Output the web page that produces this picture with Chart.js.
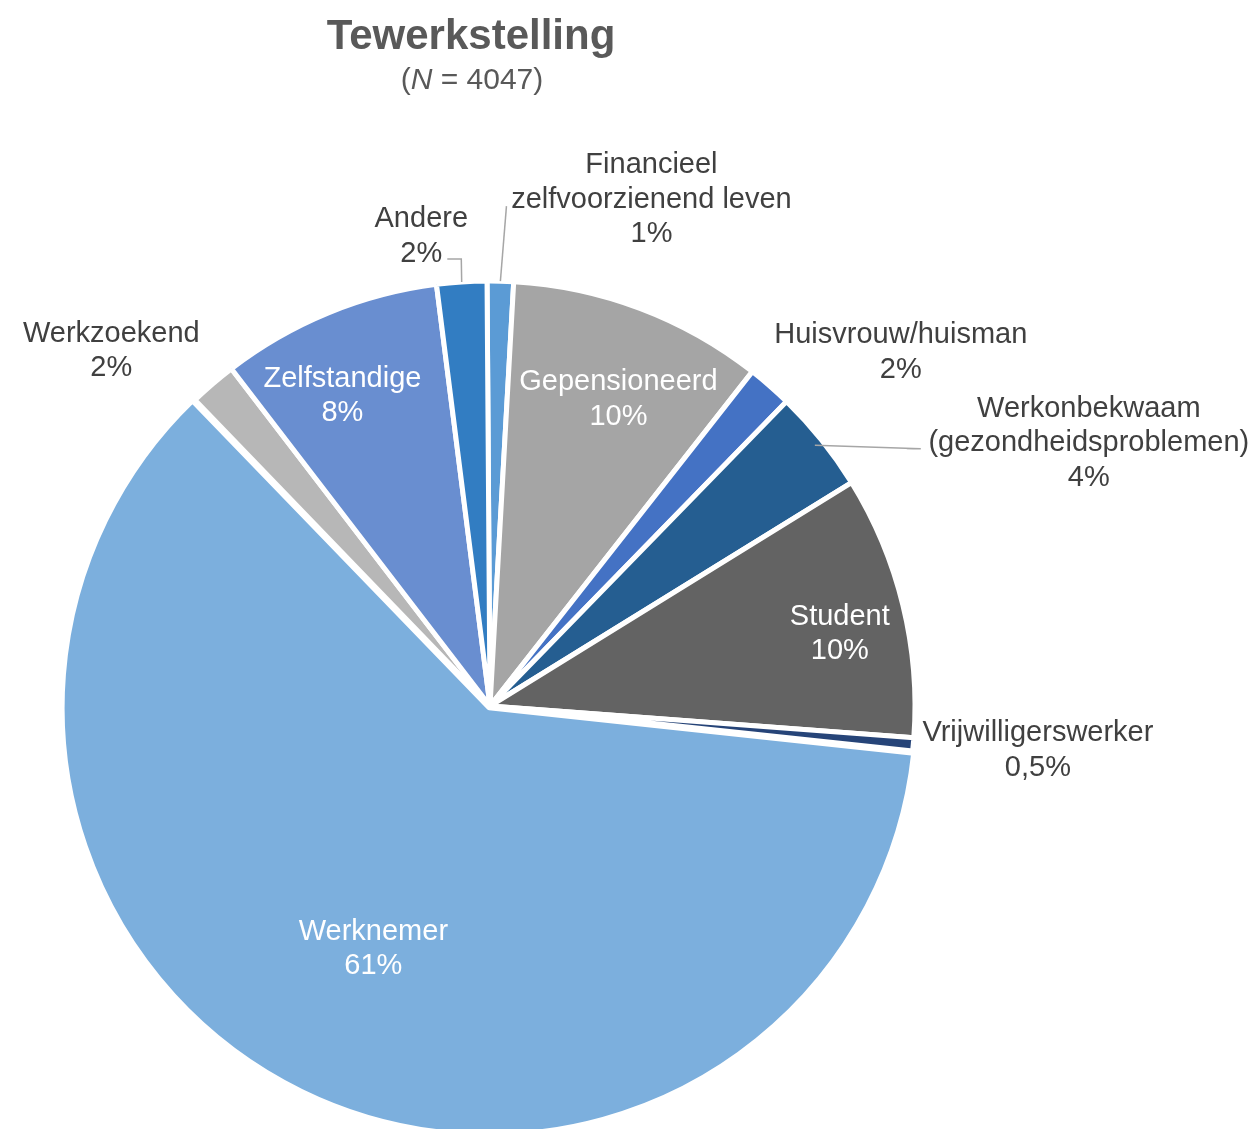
<!DOCTYPE html>
<html lang="nl">
<head>
<meta charset="utf-8">
<title>Tewerkstelling</title>
<script src="https://cdn.jsdelivr.net/npm/chart.js@4.4.1/dist/chart.umd.min.js"></script>
<style>
  html, body { margin: 0; padding: 0; background: #fff; }
  canvas { display: block; }
</style>
</head>
<body>
<canvas id="tewerkstellingChart" width="1254" height="1129"></canvas>
<script>
// categorieën, met de klok mee vanaf boven
const categories = [
  'Financieel zelfvoorzienend leven', 'Gepensioneerd', 'Huisvrouw/huisman',
  'Werkonbekwaam (gezondheidsproblemen)', 'Student', 'Vrijwilligerswerker',
  'Werknemer', 'Werkzoekend', 'Zelfstandige', 'Andere'
];
const labelLines = [
  ['Financieel', 'zelfvoorzienend leven'], ['Gepensioneerd'], ['Huisvrouw/huisman'],
  ['Werkonbekwaam', '(gezondheidsproblemen)'], ['Student'], ['Vrijwilligerswerker'],
  ['Werknemer'], ['Werkzoekend'], ['Zelfstandige'], ['Andere']
];
const percentages = [1.0, 9.7, 1.7, 3.9, 10.0, 0.5, 61.1, 1.8, 8.4, 1.9];
const totalN = 4047;

const sliceColors = [
  '#5b9bd5', '#a5a5a5', '#4472c4', '#255e91', '#636363',
  '#264478', '#7cafdd', '#b7b7b7', '#698ed0', '#327dc2'
];
const sliceOffsets = [0, 0, 0, 0, 0, 0, 8, 0, 0, 0];

// plaats van elk label: straalfactor t.o.v. het midden van de sector + verschuiving
// leader = punten van de verbindingslijn, relatief t.o.v. het label
const labelPlacement = [
  { f: 1.2,  dx: 149,  dy: 0,  leader: [[-145, 10]] },
  { f: 0.79, dx: 10,   dy: 4,  inside: true },
  { f: 1.2,  dx: 75,   dy: 27 },
  { f: 1.2,  dx: 201,  dy: 53, leader: [[-168, 9], [-182, 9]], leaderStart: 0.98 },
  { f: 0.84, dx: 3,    dy: 9,  inside: true },
  { f: 1.2,  dx: 40,   dy: -5 },
  { f: 0.63, dx: 1,    dy: -1, inside: true },
  { f: 1.2,  dx: -46,  dy: 28 },
  { f: 0.82, dx: -15,  dy: 9,  inside: true },
  { f: 1.12, dx: -37,  dy: 2,  leader: [[40, 26], [26, 26]] }
];

const FONT = '"Liberation Sans", Arial, sans-serif';
const LINE_H = 34.5;

function formatPct(v) {
  if (v < 1) return v.toFixed(1).replace('.', ',') + '%';
  return Math.round(v) + '%';
}

const pieLabels = {
  id: 'pieLabels',
  afterDatasetsDraw(chart) {
    const ctx = chart.ctx;
    const meta = chart.getDatasetMeta(0);
    ctx.save();
    meta.data.forEach((arc, i) => {
      const p = labelPlacement[i];
      const mid = (arc.startAngle + arc.endAngle) / 2;
      const r = arc.outerRadius * p.f;
      const cx = arc.x + Math.cos(mid) * r + p.dx;
      const cy = arc.y + Math.sin(mid) * r + p.dy;

      if (p.leader) {
        const r0 = arc.outerRadius * (p.leaderStart || 1);
        ctx.beginPath();
        ctx.moveTo(arc.x + Math.cos(mid) * r0, arc.y + Math.sin(mid) * r0);
        p.leader.forEach(([lx, ly]) => ctx.lineTo(cx + lx, cy + ly));
        ctx.strokeStyle = '#a6a6a6';
        ctx.lineWidth = 1.5;
        ctx.stroke();
      }

      const lines = [...labelLines[i], formatPct(percentages[i])];
      ctx.fillStyle = p.inside ? '#ffffff' : '#404040';
      ctx.font = '29px ' + FONT;
      ctx.textAlign = 'center';
      ctx.textBaseline = 'middle';
      lines.forEach((t, k) => {
        ctx.fillText(t, cx, cy + 3.5 + (k - (lines.length - 1) / 2) * LINE_H);
      });
    });
    ctx.restore();
  },
  afterDraw(chart) {
    const ctx = chart.ctx;
    ctx.save();
    ctx.fillStyle = '#595959';
    ctx.textBaseline = 'alphabetic';
    ctx.textAlign = 'center';
    ctx.font = 'bold 42px ' + FONT;
    ctx.fillText('Tewerkstelling', 471, 49);

    // ondertitel met cursieve N
    const parts = [
      { t: '(', font: '30px ' + FONT },
      { t: 'N', font: 'italic 30px ' + FONT },
      { t: ' = ' + totalN + ')', font: '30px ' + FONT }
    ];
    let w = 0;
    parts.forEach(pt => { ctx.font = pt.font; pt.w = ctx.measureText(pt.t).width; w += pt.w; });
    let x = 472 - w / 2;
    ctx.textAlign = 'left';
    parts.forEach(pt => { ctx.font = pt.font; ctx.fillText(pt.t, x, 89); x += pt.w; });
    ctx.restore();
  }
};

new Chart(document.getElementById('tewerkstellingChart'), {
  type: 'pie',
  data: {
    labels: categories,
    datasets: [{
      data: percentages,
      backgroundColor: sliceColors,
      borderColor: '#ffffff',
      borderWidth: 5,
      offset: sliceOffsets,
      clip: false
    }]
  },
  options: {
    responsive: false,
    animation: false,
    events: [],
    radius: 425,
    rotation: -0.4,
    layout: { padding: { left: 0, right: 274, top: 283, bottom: 0 } },
    plugins: {
      legend: { display: false },
      tooltip: { enabled: false },
      title: { display: false }
    }
  },
  plugins: [pieLabels]
});
</script>
</body>
</html>
